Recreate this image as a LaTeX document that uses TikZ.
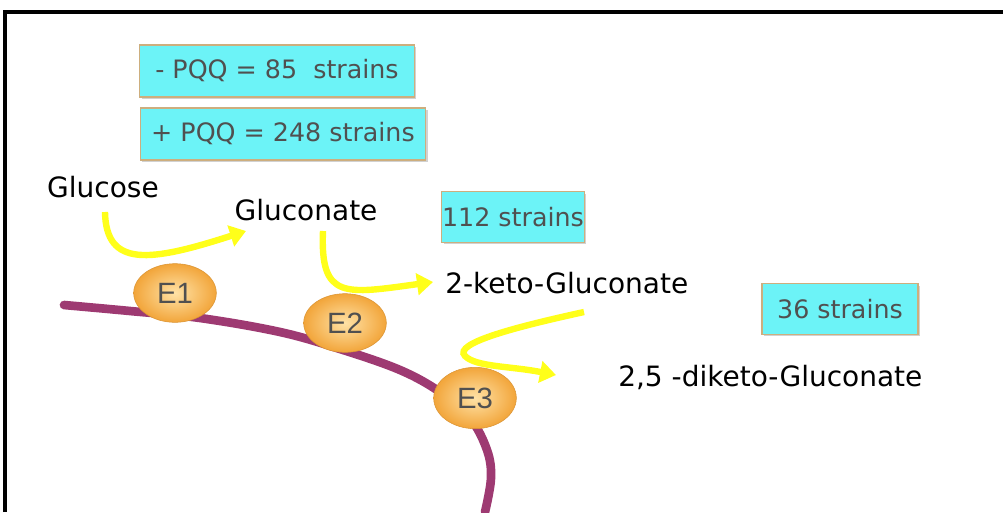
\documentclass[tikz,border=0pt]{standalone}
\usepackage{fontspec}
\setmainfont{DejaVu Sans}
\newfontfamily\elabel{Liberation Sans}
\usetikzlibrary{arrows.meta,shapes.geometric,shadows}
\definecolor{boxfill}{HTML}{6CF3F7}
\definecolor{boxedge}{HTML}{CDAE7E}
\definecolor{boxtext}{HTML}{505050}
\definecolor{mem}{HTML}{9E3A72}
\definecolor{arr}{HTML}{FFFF1A}
\definecolor{enzout}{HTML}{F2A53A}
\definecolor{enzin}{HTML}{FFE2A6}
\begin{document}
\begin{tikzpicture}[x=0.75pt,y=-0.75pt,
  countbox/.style={draw=boxedge, line width=1.2pt, fill=boxfill, text=boxtext,
    font=\fontsize{19}{22}\selectfont, inner sep=0pt,
    drop shadow={shadow xshift=1.5pt, shadow yshift=-1.5pt, fill=black!30, opacity=0.6}},
  metab/.style={font=\fontsize{21}{24}\selectfont, text=black, inner sep=0pt},
  enzyme/.style={ellipse, draw=enzout!90!black, line width=0.4pt, shading=radial,
    inner color=enzin, outer color=enzout, minimum width=62pt, minimum height=44pt,
    font=\elabel\fontsize{22}{24}\selectfont, text=boxtext},
  flow/.style={draw=arr, line width=4.8pt, -{Triangle[width=16pt,length=12pt]}},
  frame/.style={line width=2.4pt, black}]
\useasboundingbox (0,0) rectangle (1003,512);
% frame
\coordinate (fbl) at (5,512);
\coordinate (ftl) at (5,12);
\coordinate (ftr) at (1003,12);
\draw[frame] (fbl) -- (ftl) -- (ftr);
% membrane
\draw[mem, line width=6.5pt, line cap=round] plot[smooth, tension=0.6] coordinates
  {(64,305) (130,311) (200,318) (280,332) (340,349) (400,370) (440,392) (470,418) (487,450) (491,478) (485,512)};
% count boxes
\node[countbox, minimum width=206pt, minimum height=39pt] (b1) at (277,71) {- PQQ = 85\ \ strains};
\node[countbox, minimum width=214pt, minimum height=39pt] (b2) at (283,134) {+ PQQ = 248 strains};
\node[countbox, minimum width=107pt, minimum height=38pt] (b3) at (513,217) {112 strains};
\node[countbox, minimum width=117pt, minimum height=38pt] (b4) at (840,309) {36 strains};
% metabolites
\node[metab] (glc) at (103,187) {Glucose};
\node[metab] (gln) at (306,210) {Gluconate};
\node[metab, anchor=west] (kg) at (445,283) {2-keto-Gluconate};
\node[metab, anchor=west] (dkg) at (618,377) {2,5 -diketo-Gluconate};
% enzymes
\node[enzyme] (e1) at (175,293) {E1};
\node[enzyme] (e2) at (345,323) {E2};
\node[enzyme, minimum height=46pt] (e3) at (475,398) {E3};
% flow end points
\coordinate (a1s) at (105,212);
\coordinate (a1e) at (246,231);
\coordinate (a2s) at (323,231);
\coordinate (a2e) at (433,282);
\coordinate (a3s) at (584,312);
\coordinate (a3e) at (556,375);
% flows
\draw[flow] (a1s) .. controls (106,268) and (150,262) .. (a1e);
\draw[flow] (a2s) .. controls (320,300) and (345,294) .. (a2e);
\draw[flow] (a3s) .. controls (520,326) and (452,343) .. (465,356) .. controls (476,367) and (510,366) .. (a3e);
\end{tikzpicture}
\end{document}
